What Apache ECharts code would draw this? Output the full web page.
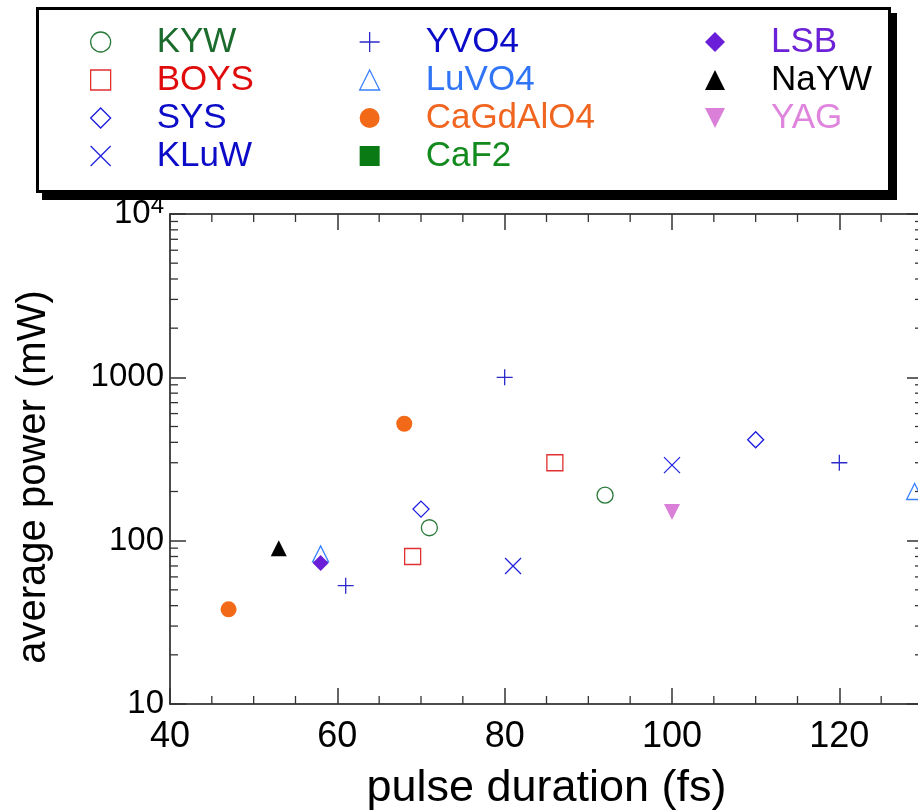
<!DOCTYPE html>
<html lang="en">
<head>
    <meta charset="UTF-8">
    <title>Average power vs pulse duration</title>
    <script src="https://cdn.jsdelivr.net/npm/echarts@6.0.0/dist/echarts.min.js"></script>
    <style>
        html, body, #chart {
            width: 918px;
            height: 812px;
            padding: 0;
            margin: 0;
            background: #fff;
        }
    </style>
</head>
<body>
<div id="chart"></div>
<script>
    // [pulse duration (fs), average power (mW)]
    var kyw = [[71, 120], [92, 190]];
    var boys = [[69, 80], [86, 300]];
    var sys = [[70, 156], [110, 415]];
    var kluw = [[81, 70], [100, 290]];
    var yvo4 = [[61, 53], [80, 1000], [120, 300]];
    var luvo4 = [[58, 83], [129, 200]];
    var cagdalo4 = [[47, 38], [68, 520]];
    var caf2 = [];
    var lsb = [[58, 73]];
    var naw = [[53, 90]];
    var yag = [[100, 150]];

    var xMinorTicks = [45, 50, 55, 65, 70, 75, 85, 90, 95, 105, 110, 115, 125];
    var yMinorTicks = [20, 30, 40, 50, 60, 70, 80, 90,
        200, 300, 400, 500, 600, 700, 800, 900,
        2000, 3000, 4000, 5000, 6000, 7000, 8000, 9000];

    var X_MIN = 40, X_MAX = 130, Y_MIN = 10, Y_MAX = 10000;
    var FONT = "'Liberation Sans', Arial, sans-serif";

    var PLUS = "path://M5,0L5,10M0,5L10,5";
    var CROSS = "path://M0,0L10,10M0,10L10,0";
    var DOWN = "path://M0,0L10,0L5,10Z";

    function hollow(name, data, symbol, color) {
        return {
            name: name, type: "scatter", data: data, symbol: symbol, symbolSize: 16,
            itemStyle: {color: "transparent", borderColor: color, borderWidth: 1.3, opacity: 1}
        };
    }

    function filled(name, data, symbol, color) {
        return {
            name: name, type: "scatter", data: data, symbol: symbol, symbolSize: 16,
            itemStyle: {color: color, borderWidth: 0, opacity: 1}
        };
    }

    function minorTicks(horizontal) {
        return function (params, api) {
            var v = api.value(horizontal ? 0 : 1);
            var len = 8, st = {stroke: "#333", lineWidth: 1.3};
            if (horizontal) {
                var b = api.coord([v, Y_MIN]), t = api.coord([v, Y_MAX]);
                return {type: "group", children: [
                    {type: "line", shape: {x1: b[0], y1: b[1], x2: b[0], y2: b[1] - len}, style: st},
                    {type: "line", shape: {x1: t[0], y1: t[1], x2: t[0], y2: t[1] + len}, style: st}
                ]};
            }
            var l = api.coord([X_MIN, v]), r = api.coord([X_MAX, v]);
            return {type: "group", children: [
                {type: "line", shape: {x1: l[0], y1: l[1], x2: l[0] + len, y2: l[1]}, style: st},
                {type: "line", shape: {x1: r[0], y1: r[1], x2: r[0] - len, y2: r[1]}, style: st}
            ]};
        };
    }

    function legendItem(name, color) {
        return {name: name, textStyle: {color: color}};
    }

    var axisLine = {show: true, onZero: false, lineStyle: {color: "#111", width: 1.5}};
    var majorTick = {show: true, inside: true, length: 16, lineStyle: {color: "#333", width: 1.5}};

    var legendBase = {
        orient: "vertical", top: 23, padding: 0, itemGap: 0,
        itemWidth: 20, itemHeight: 20, selectedMode: false,
        itemStyle: {borderWidth: 1.3, opacity: 1},
        textStyle: {fontFamily: FONT, fontSize: 35, lineHeight: 38, padding: [0, 0, 0, 41]}
    };

    var chart = echarts.init(document.getElementById("chart"));
    chart.setOption({
        animation: false,
        backgroundColor: "#fff",
        graphic: [{
            type: "rect", z: 0,
            shape: {x: 42, y: 13, width: 855, height: 187},
            style: {fill: "#000"}
        }, {
            type: "rect", z: 0,
            shape: {x: 37.5, y: 8.5, width: 852, height: 183},
            style: {fill: "#fff", stroke: "#000", lineWidth: 3}
        }],
        legend: [
            Object.assign({}, legendBase, {left: 90, data: [
                legendItem("KYW", "#1a6b2c"), legendItem("BOYS", "#e00b0b"),
                legendItem("SYS", "#0b0bc8"), legendItem("KLuW", "#0b0bc8")]}),
            Object.assign({}, legendBase, {left: 359, data: [
                legendItem("YVO4", "#0b0bc8"), legendItem("LuVO4", "#3075f5"),
                legendItem("CaGdAlO4", "#f0651f"), legendItem("CaF2", "#138a1e")]}),
            Object.assign({}, legendBase, {left: 705, data: [
                legendItem("LSB", "#6d21d6"), legendItem("NaYW", "#000000"),
                legendItem("YAG", "#df85dd")]})
        ],
        grid: {left: 170, top: 214, width: 753, height: 490, containLabel: false, outerBoundsMode: "none"},
        xAxis: [{
            type: "value", position: "bottom", min: X_MIN, max: X_MAX, interval: 20,
            axisLine: axisLine, axisTick: majorTick, splitLine: {show: false},
            axisLabel: {
                margin: 15, color: "#000", fontFamily: FONT, fontSize: 36,
                formatter: function (v) { return v % 20 === 0 ? String(v) : ""; }
            },
            name: "pulse duration (fs)", nameLocation: "middle", nameGap: 62,
            nameTextStyle: {color: "#000", fontFamily: FONT, fontSize: 45}
        }, {
            type: "value", position: "top", min: X_MIN, max: X_MAX, interval: 20,
            axisLine: axisLine, axisTick: majorTick, splitLine: {show: false},
            axisLabel: {show: false}
        }],
        yAxis: [{
            type: "log", logBase: 10, position: "left", min: Y_MIN, max: Y_MAX,
            axisLine: axisLine, axisTick: majorTick, splitLine: {show: false},
            axisLabel: {
                margin: 6, color: "#000", fontFamily: FONT, fontSize: 33,
                formatter: function (v) { return v >= 10000 ? "{b|10}{s|4}" : String(v); },
                rich: {
                    b: {fontFamily: FONT, fontSize: 33, color: "#000"},
                    s: {fontFamily: FONT, fontSize: 24, color: "#000", padding: [0, 0, 16, 0]}
                }
            },
            name: "average power (mW)", nameLocation: "middle", nameGap: 116,
            nameTextStyle: {color: "#000", fontFamily: FONT, fontSize: 40, padding: [0, 36, 0, 0]}
        }, {
            type: "log", logBase: 10, position: "right", min: Y_MIN, max: Y_MAX,
            axisLine: axisLine, axisTick: majorTick, splitLine: {show: false},
            axisLabel: {show: false}
        }],
        series: [
            hollow("KYW", kyw, "circle", "#2a7a3a"),
            hollow("BOYS", boys, "rect", "#e03030"),
            hollow("SYS", sys, "diamond", "#1a1ae0"),
            hollow("KLuW", kluw, CROSS, "#2222dd"),
            hollow("YVO4", yvo4, PLUS, "#2a2acc"),
            hollow("LuVO4", luvo4, "triangle", "#3a80ff"),
            filled("CaGdAlO4", cagdalo4, "circle", "#f26a18"),
            filled("CaF2", caf2, "rect", "#0a7a14"),
            filled("LSB", lsb, "diamond", "#6a1ed8"),
            filled("NaYW", naw, "triangle", "#000000"),
            filled("YAG", yag, DOWN, "#da80d8"),
            {
                name: "xMinor", type: "custom", silent: true, clip: false,
                data: xMinorTicks.map(function (v) { return [v, Y_MIN]; }),
                renderItem: minorTicks(true)
            },
            {
                name: "yMinor", type: "custom", silent: true, clip: false,
                data: yMinorTicks.map(function (v) { return [X_MIN, v]; }),
                renderItem: minorTicks(false)
            }
        ]
    });
</script>
</body>
</html>
